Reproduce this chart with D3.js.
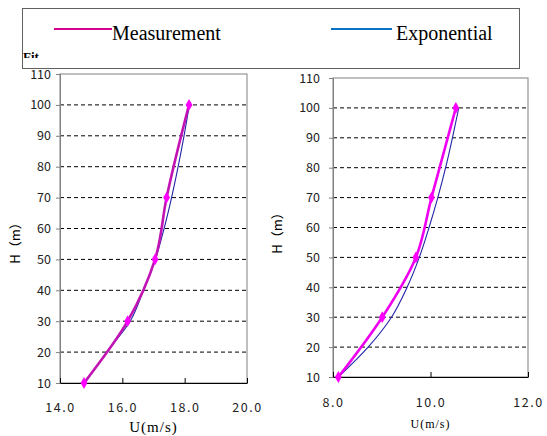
<!DOCTYPE html>
<html>
<head>
<meta charset="utf-8">
<script src="https://cdn.jsdelivr.net/npm/d3@7"></script>
<style>
  body { margin: 0; background: #fff; }
  svg { display: block; }
</style>
</head>
<body>
<div id="chart"></div>
<script>
// heights (m)
let heights = [10, 30, 50, 70, 100];
let fitHeights = [10, 20, 30, 40, 50, 60, 70, 80, 90, 100];

// left panel
let leftMeasured = [14.77, 16.17, 17.05, 17.42, 18.14];
let leftFit = [14.80, 15.50, 16.25, 16.68, 17.06, 17.34, 17.58, 17.79, 17.98, 18.15];
let leftXTicks = [14, 16, 18, 20];

// right panel
let rightMeasured = [8.11, 9.01, 9.70, 10.02, 10.52];
let rightFit = [8.11, 8.72, 9.20, 9.52, 9.77, 9.97, 10.15, 10.31, 10.45, 10.58];
let rightXTicks = [8, 10, 12];

let yTicks = [10, 20, 30, 40, 50, 60, 70, 80, 90, 100, 110];
let legendNames = ["Measurement", "Exponential"];

let svgWidth = 547;
let svgHeight = 436;

let svg = d3.select("#chart")
  .append("svg")
  .attr("width", svgWidth)
  .attr("height", svgHeight);

let numFont = "'Noto Sans CJK SC', 'DejaVu Sans', sans-serif";

function drawPanel(opt) {
  let g = svg.append("g");

  let x = d3.scaleLinear().domain(opt.xDomain).range([opt.left, opt.right]);
  let y = d3.scaleLinear().domain([10, 110]).range([opt.bottom, opt.top]);

  // dashed grid
  g.selectAll("line.grid")
    .data(yTicks.filter(d => d > 10 && d < 110))
    .enter()
    .append("line")
    .attr("x1", opt.left)
    .attr("x2", opt.right)
    .attr("y1", d => y(d))
    .attr("y2", d => y(d))
    .attr("stroke", "#000")
    .attr("stroke-width", 1)
    .attr("stroke-dasharray", "4,3");

  // frame
  g.append("rect")
    .attr("x", opt.left)
    .attr("y", opt.top)
    .attr("width", opt.right - opt.left)
    .attr("height", opt.bottom - opt.top)
    .attr("fill", "none")
    .attr("stroke", "#808080")
    .attr("stroke-width", 1);

  // y axis
  let yAxis = d3.axisLeft(y).tickValues(yTicks).tickSize(4).tickFormat(d3.format("d"));
  let ya = g.append("g")
    .attr("transform", `translate(${opt.left},0)`)
    .call(yAxis);
  ya.select(".domain").attr("stroke", "#808080");
  ya.selectAll(".tick line").attr("stroke", "#808080");
  ya.selectAll("text")
    .attr("font-family", numFont)
    .attr("font-size", 12.5)
    .attr("fill", "#222")
    .attr("x", opt.yLabelX - opt.left);

  // x axis
  let xAxis = d3.axisBottom(x).tickValues(opt.xTicks).tickSizeInner(-5).tickSizeOuter(0)
    .tickFormat(d3.format(".1f"));
  let xa = g.append("g")
    .attr("transform", `translate(0,${opt.bottom})`)
    .call(xAxis);
  xa.select(".domain").attr("stroke", "#000");
  xa.selectAll(".tick line").attr("stroke", "#000");
  xa.selectAll("text")
    .attr("font-family", numFont)
    .attr("font-size", 12.5)
    .attr("fill", "#222")
    .attr("letter-spacing", 1.5)
    .attr("y", opt.xLabelDy)
    .attr("dy", 0);

  // axis titles
  g.append("text")
    .attr("transform", `translate(${opt.yTitleX},${opt.yTitleY}) rotate(-90)`)
    .attr("text-anchor", "middle")
    .attr("font-family", numFont)
    .attr("font-size", 13)
    .text("H（m）");

  g.append("text")
    .attr("x", (opt.left + opt.right) / 2)
    .attr("y", opt.xTitleY)
    .attr("text-anchor", "middle")
    .attr("font-family", "'Liberation Serif', serif")
    .attr("font-size", opt.xTitleSize)
    .attr("letter-spacing", 1)
    .text("U(m/s)");

  // exponential fit
  let fitLine = d3.line()
    .x(d => x(d))
    .y((d, i) => y(fitHeights[i]))
    .curve(d3.curveMonotoneY);

  g.append("path")
    .datum(opt.fit)
    .attr("d", fitLine)
    .attr("fill", "none")
    .attr("stroke", "#2424a8")
    .attr("stroke-width", 1.1);

  // measurement
  let measLine = d3.line()
    .x(d => x(d))
    .y((d, i) => y(heights[i]))
    .curve(d3.curveMonotoneY);

  g.append("path")
    .datum(opt.measured)
    .attr("d", measLine)
    .attr("fill", "none")
    .attr("stroke", opt.measColor)
    .attr("stroke-width", 2.6);

  g.selectAll("path.mark")
    .data(opt.measured)
    .enter()
    .append("path")
    .attr("d", d3.symbol().type(d3.symbolDiamond).size(40))
    .attr("transform", (d, i) => `translate(${x(d)},${y(heights[i])})`)
    .attr("fill", "#ff00ff");
}

drawPanel({
  xDomain: [14, 20], xTicks: leftXTicks,
  left: 60, right: 247, top: 74, bottom: 383,
  yLabelX: 51, yTitleX: 20, yTitleY: 240, xLabelDy: 29, xTitleY: 432, xTitleSize: 15,
  measured: leftMeasured, fit: leftFit, measColor: "#c214b4"
});

drawPanel({
  xDomain: [8, 12], xTicks: rightXTicks,
  left: 333, right: 528, top: 78, bottom: 377,
  yLabelX: 320, yTitleX: 282, yTitleY: 230, xLabelDy: 30, xTitleY: 428, xTitleSize: 12,
  measured: rightMeasured, fit: rightFit, measColor: "#f000f0"
});

// clipped "Fit" label peeking behind the legend
svg.append("clipPath").attr("id", "fitclip")
  .append("rect").attr("x", 0).attr("y", 50).attr("width", 60).attr("height", 8);
svg.append("text")
  .attr("x", 23)
  .attr("y", 61)
  .attr("clip-path", "url(#fitclip)")
  .attr("font-family", "'Liberation Serif', serif")
  .attr("font-size", 13)
  .attr("font-weight", "bold")
  .text("Fit");

// legend
let legend = svg.append("g");
legend.append("rect")
  .attr("x", 22.5)
  .attr("y", 8.5)
  .attr("width", 497)
  .attr("height", 60)
  .attr("fill", "none")
  .attr("stroke", "#606060")
  .attr("stroke-width", 1);

let legendX = d3.scaleOrdinal().domain(legendNames).range([54, 331]);
let legendLen = d3.scaleOrdinal().domain(legendNames).range([58, 61]);
let legendGap = d3.scaleOrdinal().domain(legendNames).range([0, 4]);
let legendColor = d3.scaleOrdinal().domain(legendNames).range(["#d4008c", "#0a72c8"]);

legend.selectAll("line.key")
  .data(legendNames)
  .enter()
  .append("line")
  .attr("x1", d => legendX(d))
  .attr("x2", d => legendX(d) + legendLen(d))
  .attr("y1", 29)
  .attr("y2", 29)
  .attr("stroke", d => legendColor(d))
  .attr("stroke-width", 1.8);

legend.selectAll("text.key")
  .data(legendNames)
  .enter()
  .append("text")
  .attr("x", d => legendX(d) + legendLen(d) + legendGap(d))
  .attr("y", 40)
  .attr("font-family", "'Liberation Serif', 'Times New Roman', serif")
  .attr("font-size", 20)
  .attr("fill", "#000")
  .text(d => d);
</script>
</body>
</html>
